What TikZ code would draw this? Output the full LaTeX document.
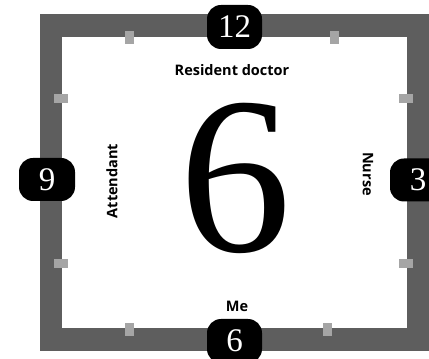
\documentclass[tikz,border=0pt]{standalone}
\usepackage{fontspec}
\setsansfont{Open Sans}
\newfontfamily\digitfont{Liberation Serif}
\begin{document}
\begin{tikzpicture}[x=1pt,y=1pt,
  badge/.style={fill=black,text=white,rounded corners=14pt,minimum width=55pt,minimum height=44pt,inner sep=0pt,font=\digitfont\fontsize{33}{33}\selectfont},
  tick/.style={fill=tickgray,draw=none,inner sep=0pt},
  lbl/.style={font=\sffamily\bfseries\fontsize{14.5}{14.5}\selectfont,inner sep=0pt}]
\definecolor{framegray}{HTML}{5E5E5E}
\definecolor{tickgray}{HTML}{A5A5A5}
\useasboundingbox (0,0) rectangle (429,359);
\fill[framegray] (39.5,8) rectangle (429,345);
\fill[white] (62,31) rectangle (407,322);
% ticks
\node[tick,minimum width=9pt,minimum height=13pt] (t1) at (129.5,321.5) {};
\node[tick,minimum width=9pt,minimum height=13pt] (t2) at (334.5,321.5) {};
\node[tick,minimum width=9pt,minimum height=13pt] (b1) at (129.5,29.5) {};
\node[tick,minimum width=9pt,minimum height=13pt] (b2) at (327.5,29.5) {};
\node[tick,minimum width=14pt,minimum height=9pt] (l1) at (61,260.5) {};
\node[tick,minimum width=14pt,minimum height=9pt] (l2) at (61,95.5) {};
\node[tick,minimum width=14pt,minimum height=9pt] (r1) at (406,260.5) {};
\node[tick,minimum width=14pt,minimum height=9pt] (r2) at (406,95.5) {};
% badges
\node[badge] (n12) at (234.5,332) {12};
\node[badge] (n6) at (234.5,18) {6};
\node[badge,minimum width=56pt,minimum height=43pt] (n9) at (47,179.5) {9};
\node[badge,minimum width=56pt,minimum height=43pt] (n3) at (418,179) {3};
% labels
\node[lbl] (rd) at (232,289) {Resident doctor};
\node[lbl,rotate=90] (att) at (112,178) {Attendant};
\node[lbl,rotate=-90] (nur) at (368,185) {Nurse};
\node[lbl] (me) at (237,53) {Me};
\node[inner sep=0pt,font=\digitfont\fontsize{224}{224}\selectfont] (big) at (235,181) {6};
\end{tikzpicture}
\end{document}
